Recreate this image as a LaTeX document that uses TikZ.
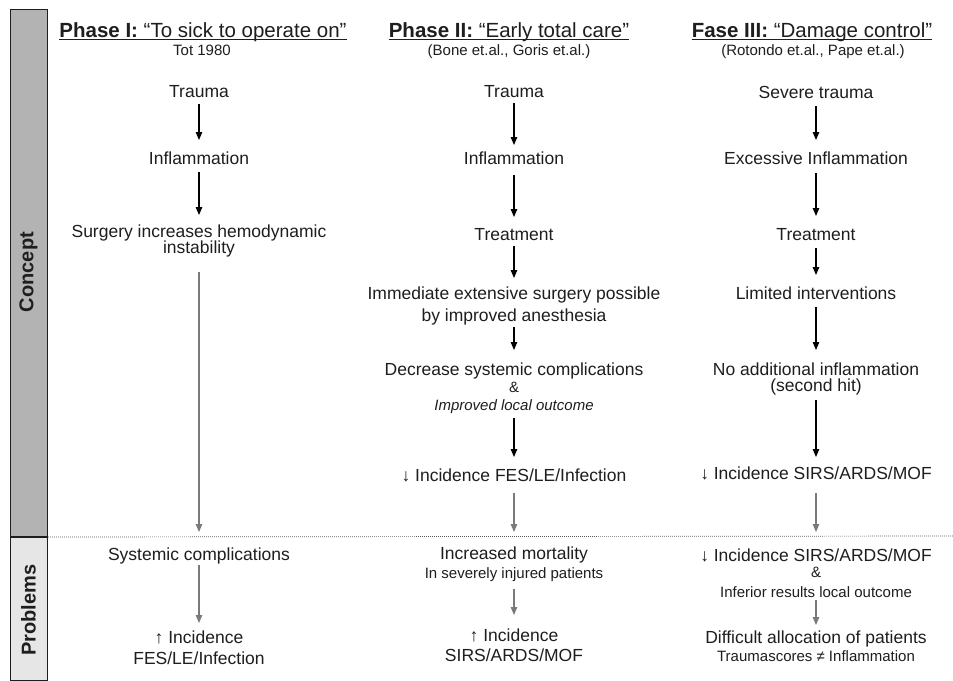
\documentclass[tikz,border=0pt]{standalone}
\usepackage{fontspec}
\setmainfont{Liberation Sans}
\usetikzlibrary{arrows.meta}
\definecolor{barconcept}{HTML}{B3B3B3}
\definecolor{barproblems}{HTML}{E6E6E6}
\definecolor{ink}{HTML}{1E1E1E}
\definecolor{grayarrow}{HTML}{7A7A7A}
\definecolor{rule}{HTML}{555555}
\begin{document}
\begin{tikzpicture}[x=1pt,y=-1pt,
  body/.style={inner sep=0pt, anchor=base, text=ink, font=\fontsize{17.5}{20}\selectfont},
  small/.style={inner sep=0pt, anchor=base, text=ink, font=\fontsize{15}{17}\selectfont},
  smallit/.style={inner sep=0pt, anchor=base, text=ink, font=\fontsize{15}{17}\selectfont\itshape},
  title/.style={inner sep=0pt, anchor=base, text=ink, font=\fontsize{20.5}{24}\selectfont},
  sidelabel/.style={rotate=90, inner sep=0pt, text=ink, font=\fontsize{20}{24}\selectfont\bfseries},
  sidebox/.style={draw=ink, line width=1pt, inner sep=0pt, minimum width=37pt, anchor=north west},
  blk/.style={draw=black, line width=1.1pt, -{Triangle[length=8pt,width=6.5pt]}},
  gry/.style={draw=grayarrow, line width=1.1pt, -{Triangle[length=8pt,width=6.5pt]}},
  uline/.style={draw=ink, line width=1.1pt},
  sep/.style={draw=rule, line width=0.7pt, dash pattern=on 0.9pt off 1.1pt}
]
\fill[white] (0,0) rectangle (953,680);
\useasboundingbox (0,0) rectangle (953,680);

% side bar with the two row labels
\node[sidebox, fill=barconcept, minimum height=527pt] (cbox) at (10,9) {};
\node[sidebox, fill=barproblems, minimum height=143pt] (pbox) at (cbox.south west) {};
\node[sidelabel] (clabel) at (28.5,272) {Concept};
\node[sidelabel] (plabel) at (28.5,610) {Problems};

% dotted separator between the rows
\coordinate (sepend) at (953,536);
\draw[sep] (cbox.south east) -- (sepend);

% ---------- Phase I ----------
\node[title] (t1) at (203,37.3) {\textbf{Phase I:} “To sick to operate on”};
\draw[uline] ([yshift=-2.5pt]t1.base west) -- ([yshift=-2.5pt]t1.base east);
\node[small] (s1) at (202,55) {Tot 1980};

\node[body] (a1) at (199,97.5) {Trauma};
\node[body] (a2) at (199,164) {Inflammation};
\node[body] (a3) at (199,237.5) {Surgery increases hemodynamic};
\node[body] (a3b) at (199,253.5) {instability};
\node[body] (a4) at (199,560) {Systemic complications};
\node[body] (a5) at (199,643.5) {↑ Incidence};
\node[body] (a5b) at (199,664.5) {FES/LE/Infection};

\draw[blk] ([yshift=-6.5pt]a1.base) -- ([yshift=24pt]a2.base);
\draw[blk] ([yshift=-8pt]a2.base) -- ([yshift=22.5pt]a3.base);
\draw[gry] ([yshift=-18.5pt]a3b.base) -- ([yshift=28pt]a4.base);
\draw[gry] ([yshift=-5pt]a4.base) -- ([yshift=20.5pt]a5.base);

% ---------- Phase II ----------
\node[title] (t2) at (509,37.3) {\textbf{Phase II:} “Early total care”};
\draw[uline] ([yshift=-2.5pt]t2.base west) -- ([yshift=-2.5pt]t2.base east);
\node[small] (s2) at (509,55) {(Bone et.al., Goris et.al.)};

\node[body] (b1) at (514,97.5) {Trauma};
\node[body] (b2) at (514,164) {Inflammation};
\node[body] (b3) at (514,240.5) {Treatment};
\node[body] (b4) at (514,299.5) {Immediate extensive surgery possible};
\node[body] (b4b) at (514,321.5) {by improved anesthesia};
\node[body] (b5) at (514,375.5) {Decrease systemic complications};
\node[small] (b5b) at (514,392.5) {\&};
\node[smallit] (b5c) at (514,410.5) {Improved local outcome};
\node[body] (b6) at (514,481.5) {↓ Incidence FES/LE/Infection};
\node[body] (b7) at (514,559.5) {Increased mortality};
\node[small] (b7b) at (514,578.5) {In severely injured patients};
\node[body] (b8) at (514,641.5) {↑ Incidence};
\node[body] (b8b) at (514,661.5) {SIRS/ARDS/MOF};

\draw[blk] ([yshift=-5.5pt]b1.base) -- ([yshift=19pt]b2.base);
\draw[blk] ([yshift=-11pt]b2.base) -- ([yshift=23.5pt]b3.base);
\draw[blk] ([yshift=-5.5pt]b3.base) -- ([yshift=21.5pt]b4.base);
\draw[blk] ([yshift=-5.5pt]b4b.base) -- ([yshift=25.5pt]b5.base);
\draw[blk] ([yshift=-7.5pt]b5c.base) -- ([yshift=24.5pt]b6.base);
\draw[gry] ([yshift=-11.5pt]b6.base) -- ([yshift=27.5pt]b7.base);
\draw[gry] ([yshift=-10.5pt]b7b.base) -- ([yshift=26.5pt]b8.base);

% ---------- Phase III ----------
\node[title] (t3) at (812,37.3) {\textbf{Fase III:} “Damage control”};
\draw[uline] ([yshift=-2.5pt]t3.base west) -- ([yshift=-2.5pt]t3.base east);
\node[small] (s3) at (813,55) {(Rotondo et.al., Pape et.al.)};

\node[body] (c1) at (816,98) {Severe trauma};
\node[body] (c2) at (816,164) {Excessive Inflammation};
\node[body] (c3) at (816,240.5) {Treatment};
\node[body] (c4) at (816,299.5) {Limited interventions};
\node[body] (c5) at (816,375.5) {No additional inflammation};
\node[body] (c5b) at (816,391.5) {(second hit)};
\node[body] (c6) at (816,479.5) {↓ Incidence SIRS/ARDS/MOF};
\node[body] (c7) at (816,561.5) {↓ Incidence SIRS/ARDS/MOF};
\node[small] (c7b) at (816,577.5) {\&};
\node[small] (c7c) at (816,597.5) {Inferior results local outcome};
\node[body] (c8) at (816,643.5) {Difficult allocation of patients};
\node[small] (c8b) at (816,661.5) {Traumascores ≠ Inflammation};

\draw[blk] ([yshift=-8pt]c1.base) -- ([yshift=24pt]c2.base);
\draw[blk] ([yshift=-9pt]c2.base) -- ([yshift=24.5pt]c3.base);
\draw[blk] ([yshift=-7.5pt]c3.base) -- ([yshift=24.5pt]c4.base);
\draw[blk] ([yshift=-7.5pt]c4.base) -- ([yshift=25.5pt]c5.base);
\draw[blk] ([yshift=-8.5pt]c5b.base) -- ([yshift=22.5pt]c6.base);
\draw[gry] ([yshift=-13.5pt]c6.base) -- ([yshift=29.5pt]c7.base);
\draw[gry] ([yshift=-2.5pt]c7c.base) -- ([yshift=18.5pt]c8.base);
\end{tikzpicture}
\end{document}
